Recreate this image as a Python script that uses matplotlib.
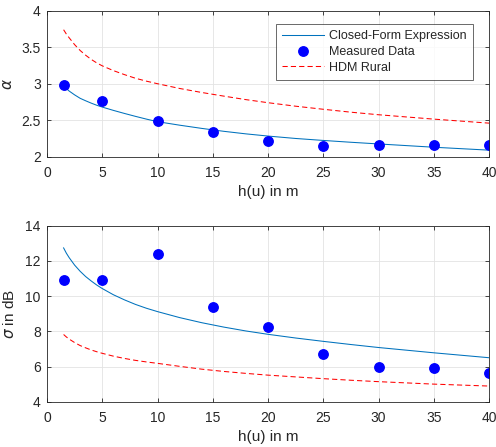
import matplotlib
matplotlib.use('Agg')
import matplotlib.pyplot as plt

plt.rcParams.update({
    'font.family': ['Liberation Sans', 'DejaVu Sans'],
    'font.size': 10,
    'text.color': '#262626',
    'axes.labelcolor': '#262626',
    'axes.labelsize': 11,
    'axes.edgecolor': '#262626',
    'axes.linewidth': 0.6,
    'xtick.color': '#262626',
    'ytick.color': '#262626',
    'xtick.labelsize': 10,
    'ytick.labelsize': 10,
    'xtick.direction': 'in',
    'ytick.direction': 'in',
    'xtick.major.size': 3,
    'ytick.major.size': 3,
    'xtick.major.width': 0.6,
    'ytick.major.width': 0.6,
    'xtick.major.pad': 7,
    'ytick.major.pad': 4.5,
    'mathtext.fontset': 'dejavusans',
})

# antenna heights of the measurement campaign
h_meas = [1.5, 5, 10, 15, 20, 25, 30, 35, 40]
# heights at which the model curves are evaluated
h_curve = [1.5, 1.75, 2, 2.5, 3, 3.5, 4, 4.5, 5, 6, 7, 8, 9, 10, 12, 14,
           16, 18, 20, 22.5, 25, 27.5, 30, 35, 40]

# path loss exponent
alpha_meas = [2.98, 2.77, 2.49, 2.34, 2.21, 2.15, 2.16, 2.16, 2.155]
alpha_fit = [2.97, 2.935, 2.90, 2.847, 2.80, 2.766, 2.734, 2.705, 2.68,
             2.635, 2.593, 2.553, 2.515, 2.48, 2.432, 2.388, 2.348, 2.313,
             2.283, 2.25, 2.223, 2.198, 2.175, 2.13, 2.09]
alpha_hdm = [3.74, 3.68, 3.63, 3.535, 3.455, 3.39, 3.333, 3.285, 3.245,
             3.18, 3.125, 3.075, 3.035, 3.0, 2.935, 2.88, 2.83, 2.782,
             2.74, 2.692, 2.65, 2.61, 2.575, 2.515, 2.46]

# shadowing standard deviation
sigma_meas = [10.89, 10.93, 12.37, 9.36, 8.26, 6.69, 5.97, 5.93, 5.63]
sigma_fit = [12.74, 12.44, 12.19, 11.76, 11.41, 11.11, 10.86, 10.63, 10.43,
             10.08, 9.79, 9.53, 9.31, 9.12, 8.78, 8.49, 8.24, 8.02, 7.83,
             7.62, 7.43, 7.25, 7.08, 6.78, 6.50]
sigma_hdm = [7.82, 7.68, 7.56, 7.36, 7.19, 7.06, 6.94, 6.84, 6.75, 6.59,
             6.46, 6.35, 6.26, 6.18, 6.01, 5.85, 5.72, 5.61, 5.51, 5.41,
             5.31, 5.22, 5.14, 5.00, 4.89]

FIT_COLOR = '#0072BD'
MEAS_COLOR = '#0000FF'
HDM_COLOR = '#FF0000'

fig = plt.figure(figsize=(4.96, 4.47), dpi=100)
ax1 = fig.add_axes([0.0948, 0.6494, 0.8912, 0.3266])
ax2 = fig.add_axes([0.0948, 0.1013, 0.8912, 0.3937])


def style_axes(ax, ylim, yticks):
    ax.set_xlim(0, 40)
    ax.set_xticks(range(0, 41, 5))
    ax.set_ylim(*ylim)
    ax.set_yticks(yticks)
    ax.grid(True, color='#E3E3E3', linewidth=0.6)
    ax.set_axisbelow(True)
    ax.tick_params(top=True, right=True)
    ax.set_xlabel('h(u) in m', labelpad=3)


ax1.plot(h_curve, alpha_fit, color=FIT_COLOR, linewidth=0.75,
         label='Closed-Form Expression')
ax1.plot(h_meas, alpha_meas, 'o', color=MEAS_COLOR, markersize=6.8,
         label='Measured Data')
ax1.plot(h_curve, alpha_hdm, '--', color=HDM_COLOR, linewidth=0.75,
         dashes=(5, 3), label='HDM Rural')
style_axes(ax1, (2, 4), [2, 2.5, 3, 3.5, 4])
ax1.set_yticklabels(['2', '2.5', '3', '3.5', '4'])
ax1.set_ylabel(r'$\alpha$', labelpad=4.5)
leg = ax1.legend(loc='upper right', bbox_to_anchor=(0.964, 0.909),
                 fontsize=9, frameon=True, fancybox=False,
                 edgecolor='#262626', borderpad=0.5, labelspacing=0.3,
                 handlelength=3.4, handletextpad=0.4, borderaxespad=0)
leg.get_frame().set_linewidth(0.6)

ax2.plot(h_curve, sigma_fit, color=FIT_COLOR, linewidth=0.75)
ax2.plot(h_meas, sigma_meas, 'o', color=MEAS_COLOR, markersize=6.8)
ax2.plot(h_curve, sigma_hdm, '--', color=HDM_COLOR, linewidth=0.75,
         dashes=(5, 3))
style_axes(ax2, (4, 14), [4, 6, 8, 10, 12, 14])
ax2.set_ylabel(r'$\sigma$ in dB', labelpad=6)

fig.savefig('out.png', dpi=100)
